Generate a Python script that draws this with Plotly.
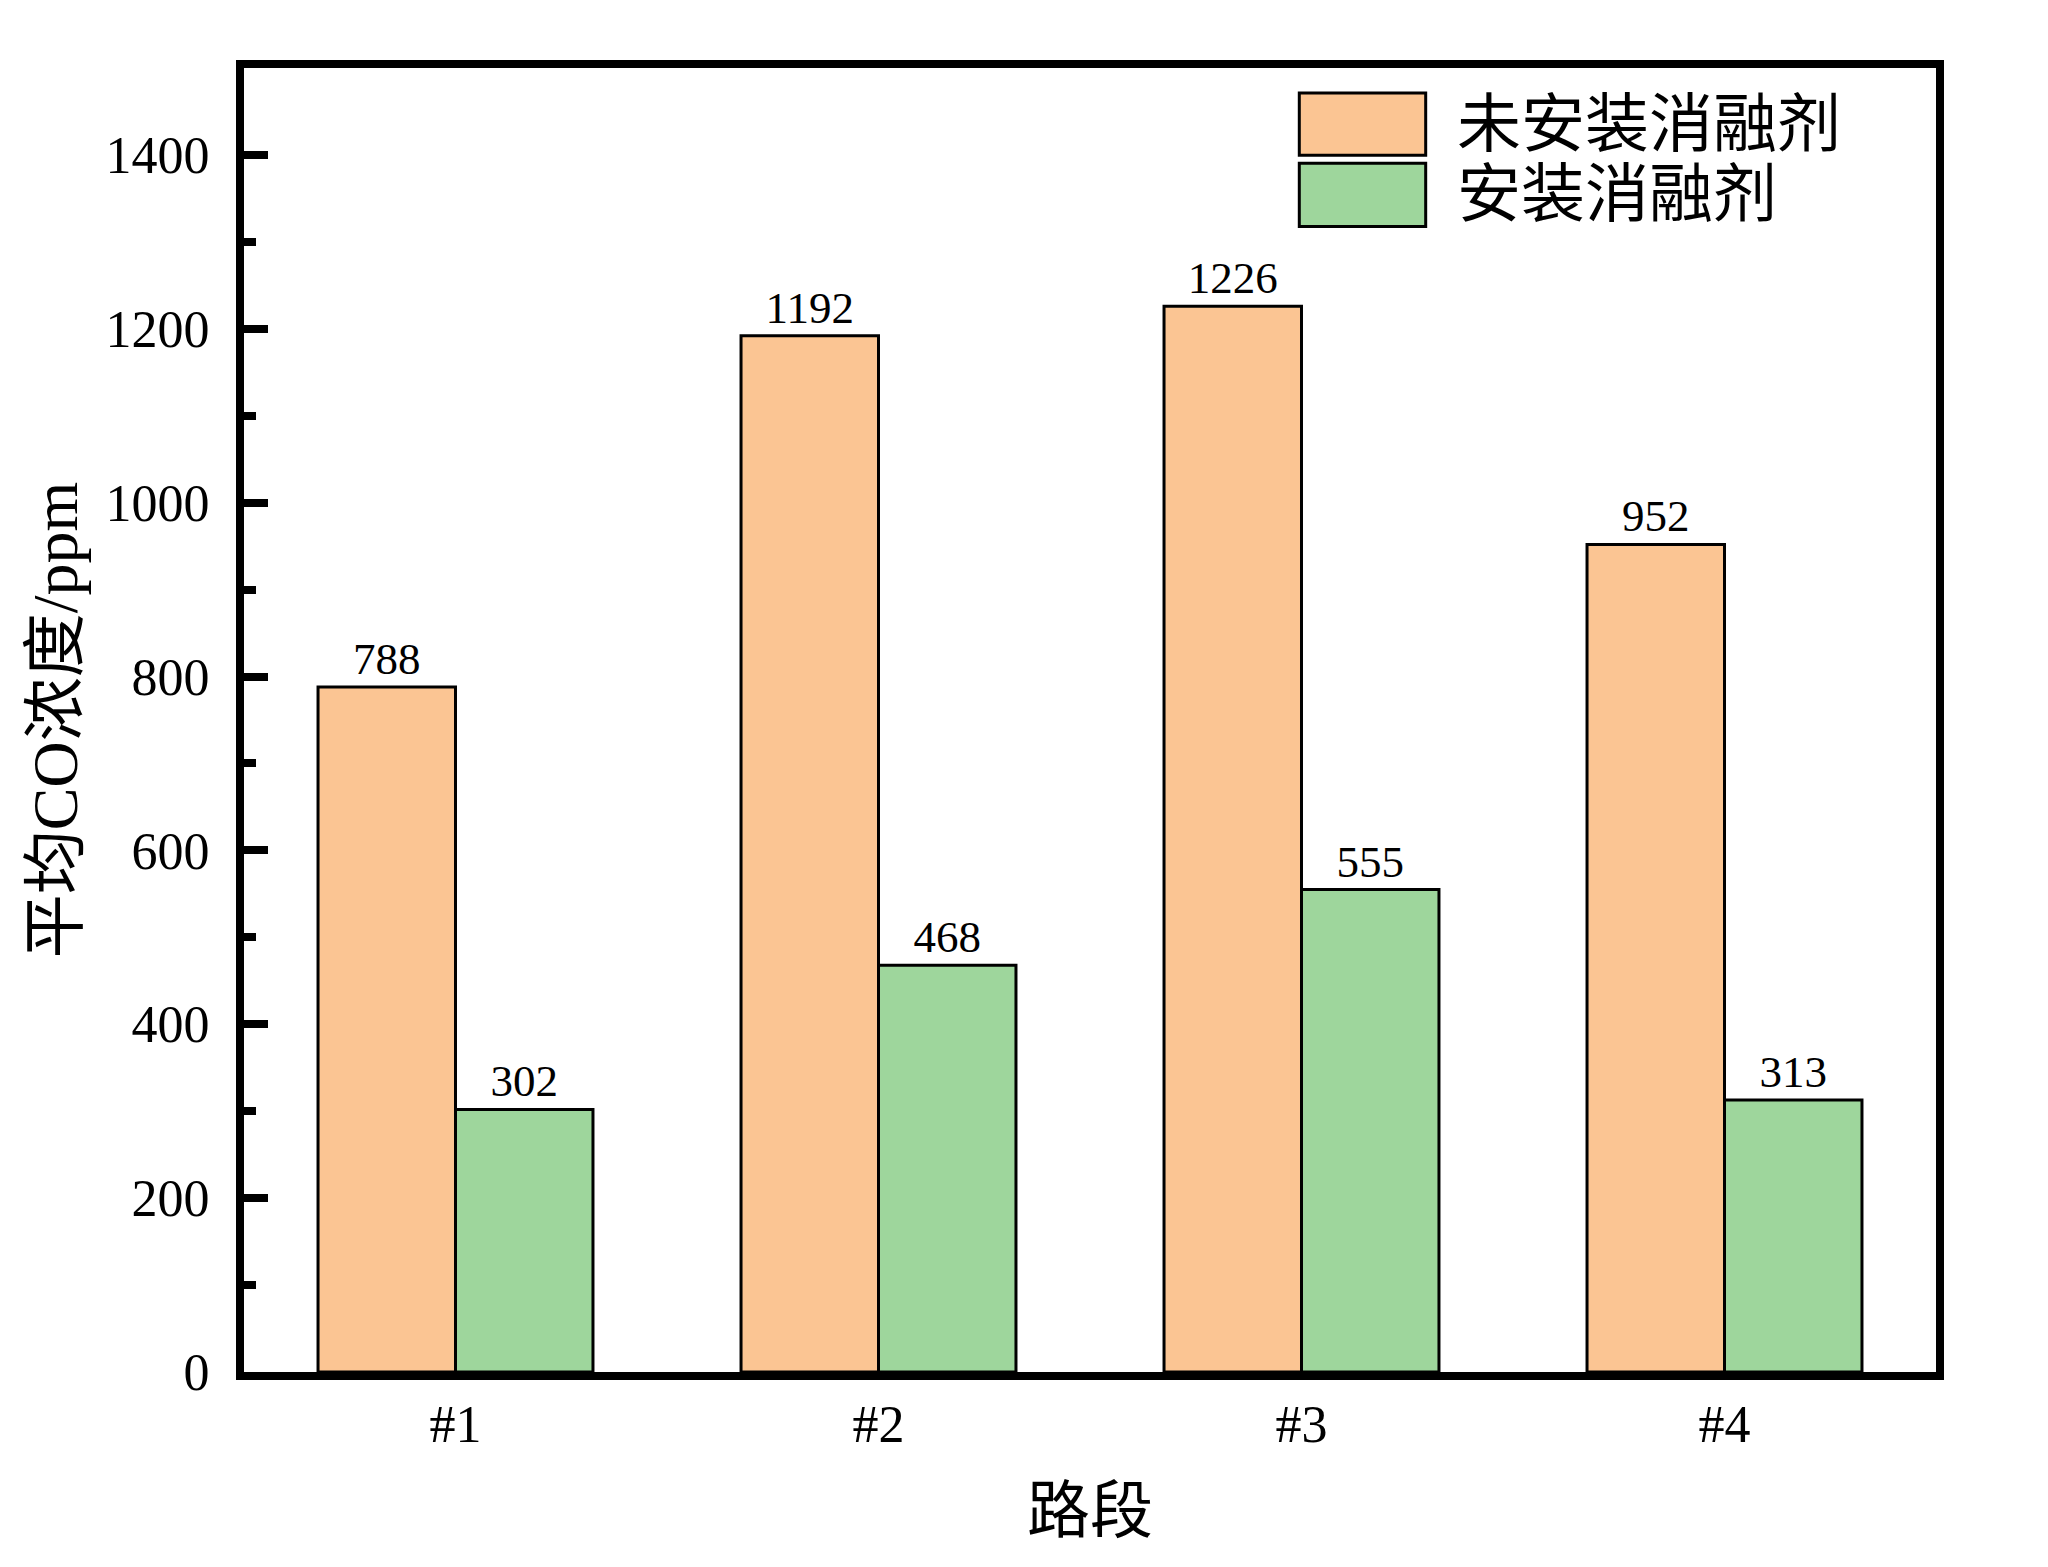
import plotly.graph_objects as go

# data
sections = ['#1', '#2', '#3', '#4']
series_names = ['未安装消融剂', '安装消融剂']
without_agent = [788, 1192, 1226, 952]
with_agent = [302, 468, 555, 313]

bar_colors = ['#FBC593', '#9ED69C']
serif = 'Times New Roman, Liberation Serif, Noto Sans CJK SC'

fig = go.Figure()
for name, vals, col in zip(series_names, [without_agent, with_agent], bar_colors):
    fig.add_trace(go.Bar(
        x=sections, y=vals, name=name,
        marker=dict(color=col, line=dict(color='black', width=3)),
        text=[str(v) for v in vals], textposition='outside',
        textfont=dict(family=serif, size=45, color='black'),
        constraintext='none', cliponaxis=False,
        showlegend=False,
    ))

# legend drawn by hand: big boxes like the original
box_y = [(0.9808, 0.9331), (0.9269, 0.8785)]
for (y0, y1), col, name in zip(box_y, bar_colors, series_names):
    fig.add_shape(type='rect', xref='paper', yref='paper',
                  x0=0.6237, x1=0.6984, y0=y1, y1=y0,
                  fillcolor=col, line=dict(color='black', width=3))
    fig.add_annotation(xref='paper', yref='paper', x=0.716, y=(y0 + y1) / 2,
                       text=name, showarrow=False, xanchor='left', yanchor='middle',
                       font=dict(family=serif, size=64, color='black'))

fig.update_layout(
    width=2048, height=1567,
    margin=dict(l=236, r=120, t=60, b=203),
    paper_bgcolor='white', plot_bgcolor='white',
    barmode='group', bargap=0.35, bargroupgap=0,
    font=dict(family=serif, color='black'),
)
fig.update_xaxes(
    showline=True, linecolor='black', linewidth=8, mirror=True,
    ticks='', tickfont=dict(family=serif, size=52, color='black'),
    ticklabelstandoff=0,
    title=dict(text='路段', font=dict(family=serif, size=63, color='black'), standoff=38),
    range=[-0.5, 3.5],
)
fig.update_yaxes(
    showline=True, linecolor='black', linewidth=8, mirror=True,
    range=[0, 1500], dtick=200, showgrid=False, zeroline=False,
    ticks='inside', ticklen=24, tickwidth=8, tickcolor='black',
    minor=dict(dtick=100, ticks='inside', ticklen=12, tickwidth=8, tickcolor='black', showgrid=False),
    tickfont=dict(family=serif, size=52, color='black'),
    ticklabelstandoff=16,
    title=dict(text='平均CO浓度/ppm', font=dict(family=serif, size=64, color='black'), standoff=10),
)

fig.write_html('out.html')
